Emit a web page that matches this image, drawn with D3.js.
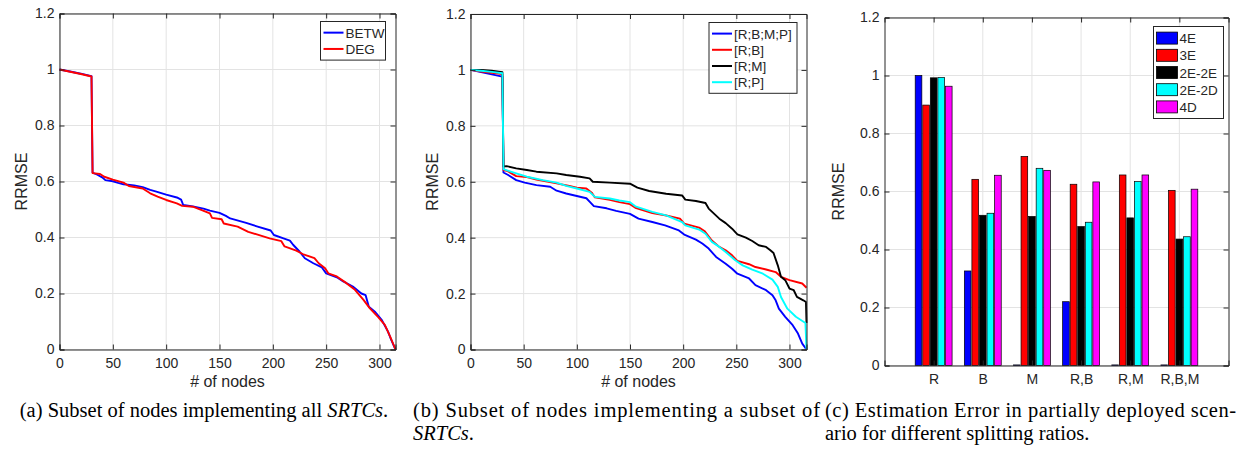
<!DOCTYPE html>
<html>
<head>
<meta charset="utf-8">
<script src="https://cdn.jsdelivr.net/npm/d3@7"></script>
<style>
  body { margin: 0; background: #fff; }
  svg { display: block; }
</style>
</head>
<body>
<script>
// ---- data ----
// panel (a): all SRTCs
var betw = [[0,1.0],[10,0.993],[20,0.985],[30,0.976],[31,0.632],[35,0.625],[40,0.615],[43,0.605],[50,0.601],[55,0.595],[60,0.59],[70,0.586],[78,0.58],[85,0.57],[90,0.565],[100,0.553],[110,0.543],[114,0.535],[116,0.516],[125,0.511],[135,0.503],[141,0.496],[150,0.488],[156,0.477],[160,0.468],[175,0.452],[185,0.44],[198,0.425],[201,0.409],[210,0.397],[216,0.389],[219,0.374],[225,0.35],[230,0.326],[238,0.308],[246,0.293],[250,0.272],[260,0.258],[266,0.243],[275,0.225],[283,0.2],[287,0.194],[290,0.153],[296,0.134],[302,0.106],[308,0.064],[311,0.034],[315,0]];
var deg = [[0,1.0],[10,0.992],[20,0.984],[30,0.975],[31,0.63],[38,0.627],[42,0.617],[50,0.607],[60,0.596],[65,0.584],[78,0.575],[85,0.558],[92,0.546],[100,0.534],[110,0.522],[115,0.513],[125,0.51],[134,0.497],[141,0.486],[143,0.47],[152,0.465],[154,0.45],[167,0.439],[177,0.42],[185,0.411],[197,0.397],[208,0.387],[211,0.368],[222,0.353],[228,0.341],[239,0.326],[243,0.308],[249,0.29],[252,0.272],[260,0.261],[269,0.237],[277,0.213],[285,0.177],[291,0.147],[299,0.115],[305,0.088],[310,0.046],[315,0]];

// panel (b): subset of SRTCs
var rbmp = [[0,1.0],[10,0.992],[20,0.984],[30,0.976],[31,0.633],[35,0.625],[43,0.606],[51,0.597],[62,0.588],[75,0.582],[81,0.568],[90,0.558],[100,0.549],[109,0.541],[112,0.529],[116,0.513],[128,0.505],[137,0.496],[150,0.485],[158,0.468],[171,0.456],[183,0.444],[196,0.426],[201,0.411],[212,0.393],[218,0.379],[224,0.361],[231,0.331],[240,0.307],[246,0.289],[251,0.271],[262,0.254],[268,0.23],[278,0.212],[284,0.194],[287,0.176],[290,0.146],[296,0.117],[303,0.087],[308,0.057],[312,0.021],[316,0]];
var rb = [[0,1.0],[10,0.994],[20,0.99],[30,0.985],[31,0.642],[35,0.638],[43,0.62],[53,0.617],[62,0.608],[81,0.594],[93,0.585],[100,0.579],[109,0.576],[114,0.561],[117,0.544],[131,0.535],[140,0.527],[150,0.52],[155,0.507],[171,0.488],[183,0.48],[197,0.468],[201,0.45],[215,0.436],[220,0.424],[227,0.39],[234,0.367],[240,0.355],[246,0.337],[251,0.317],[262,0.305],[268,0.295],[278,0.286],[287,0.277],[292,0.26],[300,0.248],[312,0.236],[316,0.221]];
var rm = [[0,1.0],[10,1.0],[20,0.997],[30,0.992],[31,0.655],[34,0.656],[43,0.648],[53,0.642],[62,0.636],[81,0.63],[90,0.624],[103,0.618],[112,0.612],[115,0.6],[131,0.597],[150,0.593],[157,0.579],[168,0.567],[184,0.557],[199,0.551],[202,0.536],[212,0.531],[221,0.524],[224,0.504],[229,0.486],[234,0.468],[240,0.452],[246,0.432],[251,0.412],[259,0.4],[265,0.388],[271,0.373],[278,0.367],[282,0.355],[285,0.345],[289,0.301],[292,0.26],[296,0.248],[300,0.218],[304,0.212],[307,0.188],[313,0.176],[315.5,0.17],[316,0.095]];
var rp = [[0,1.0],[10,0.997],[20,0.993],[30,0.988],[31,0.645],[35,0.64],[43,0.63],[53,0.618],[68,0.606],[81,0.597],[90,0.585],[100,0.576],[112,0.564],[117,0.546],[131,0.54],[140,0.533],[150,0.527],[155,0.512],[171,0.492],[184,0.48],[199,0.456],[202,0.444],[215,0.429],[221,0.414],[227,0.385],[234,0.367],[240,0.349],[249,0.319],[256,0.301],[265,0.286],[275,0.271],[284,0.25],[289,0.224],[292,0.188],[298,0.146],[306,0.117],[315,0.095],[316,0]];

// panel (c): splitting ratios
var ratios = ["R", "B", "M", "R,B", "R,M", "R,B,M"];
var barSeries = ["4E", "3E", "2E-2E", "2E-2D", "4D"];
var barColors = ["#0000ff", "#ff0000", "#000000", "#00ffff", "#ff00ff"];
var val4E   = [1.0, 0.326, 0.002, 0.220, 0.002, 0.002];
var val3E   = [0.898, 0.642, 0.721, 0.625, 0.657, 0.604];
var val2E2E = [0.992, 0.518, 0.514, 0.479, 0.509, 0.436];
var val2E2D = [0.993, 0.525, 0.680, 0.494, 0.634, 0.444];
var val4D   = [0.963, 0.656, 0.673, 0.633, 0.657, 0.608];

var yTicks = [0, 0.2, 0.4, 0.6, 0.8, 1, 1.2];
var xTicks = [0, 50, 100, 150, 200, 250, 300];

var captions = [
  {lines: [["(a) Subset of nodes implementing all ", "SRTCs", "."]]},
  {lines: [["(b) Subset of nodes implementing a subset of", "", ""], ["", "SRTCs", "."]]},
  {lines: [["(c) Estimation Error in partially deployed scen-", "", ""], ["ario for different splitting ratios.", "", ""]]}
];

// ---- drawing ----
var svg = d3.select("body").append("svg")
  .attr("width", 1238).attr("height", 451)
  .style("font-family", "'Liberation Sans', Arial, sans-serif");

var axisCol = "#262626";
var gridCol = "#e3e3e3";
var fmt = function(d) { return String(+d.toFixed(1)); };

function frame(g, x, y, xv, xf) {
  var x0 = x.range()[0], x1 = x.range()[1], y0 = y.range()[0], y1 = y.range()[1];
  // grid
  g.append("g").selectAll("line").data(xv).enter().append("line")
    .attr("x1", function(d) { return x(d); }).attr("x2", function(d) { return x(d); })
    .attr("y1", y0).attr("y2", y1).attr("stroke", gridCol);
  g.append("g").selectAll("line").data(yTicks).enter().append("line")
    .attr("y1", function(d) { return y(d); }).attr("y2", function(d) { return y(d); })
    .attr("x1", x0).attr("x2", x1).attr("stroke", gridCol);
}

function axes(g, x, y, xv, xf) {
  var x0 = x.range()[0], x1 = x.range()[1], y0 = y.range()[0], y1 = y.range()[1];
  var bottom = g.append("g").attr("transform", "translate(0," + y0 + ")")
    .call(d3.axisBottom(x).tickValues(xv).tickFormat(xf).tickSize(-5).tickPadding(9));
  var left = g.append("g").attr("transform", "translate(" + x0 + ",0)")
    .call(d3.axisLeft(y).tickValues(yTicks).tickFormat(fmt).tickSize(-5).tickPadding(5));
  var top = g.append("g").attr("transform", "translate(0," + y1 + ")")
    .call(d3.axisTop(x).tickValues(xv).tickFormat("").tickSize(-5));
  var right = g.append("g").attr("transform", "translate(" + x1 + ",0)")
    .call(d3.axisRight(y).tickValues(yTicks).tickFormat("").tickSize(-5));
  [bottom, left, top, right].forEach(function(a) {
    a.select(".domain").attr("stroke", axisCol);
    a.selectAll(".tick line").attr("stroke", axisCol);
    a.selectAll("text").attr("fill", axisCol).style("font-size", "14px")
      .style("font-family", "'Liberation Sans', Arial, sans-serif");
  });
}

function ylabel(g, cx, cy) {
  g.append("text").attr("transform", "translate(" + cx + "," + cy + ") rotate(-90)")
    .attr("text-anchor", "middle").attr("fill", axisCol)
    .style("font-size", "16px").text("RRMSE");
}

function legendBox(g, bx, by, bw, rowH, items, swatch) {
  g.append("rect").attr("x", bx).attr("y", by).attr("width", bw)
    .attr("height", rowH * items.length + 6)
    .attr("fill", "#fff").attr("stroke", axisCol).attr("stroke-width", 1);
  items.forEach(function(it, i) {
    var cy = by + 3 + rowH * i + rowH / 2;
    if (swatch) {
      g.append("rect").attr("x", bx + 3).attr("y", cy - 6).attr("width", 21).attr("height", 12)
        .attr("fill", it.color).attr("stroke", "#000").attr("stroke-width", 0.8);
    } else {
      g.append("line").attr("x1", bx + 3).attr("x2", bx + 23).attr("y1", cy).attr("y2", cy)
        .attr("stroke", it.color).attr("stroke-width", 2);
    }
    g.append("text").attr("x", bx + (swatch ? 26 : 25)).attr("y", cy + 5)
      .attr("fill", axisCol).style("font-size", "13.5px").text(it.name);
  });
}

function linePanel(box, xMax, series, leg) {
  var g = svg.append("g");
  var x = d3.scaleLinear().domain([0, xMax]).range([box.l, box.r]);
  var y = d3.scaleLinear().domain([0, 1.2]).range([box.b, box.t]);
  frame(g, x, y, xTicks);
  var line = d3.line().x(function(d) { return x(d[0]); }).y(function(d) { return y(d[1]); });
  series.forEach(function(s) {
    g.append("path").datum(s.data).attr("d", line).attr("fill", "none")
      .attr("stroke", s.color).attr("stroke-width", 1.9).attr("stroke-linejoin", "round");
  });
  axes(g, x, y, xTicks, d3.format("d"));
  g.append("text").attr("x", (box.l + box.r) / 2).attr("y", box.b + 37)
    .attr("text-anchor", "middle").attr("fill", axisCol).style("font-size", "16px").text("# of nodes");
  ylabel(g, box.l - 33, (box.t + box.b) / 2);
  legendBox(g, leg.x, leg.y, leg.w, leg.h, series, false);
}

linePanel({l: 59.5, r: 395.5, t: 13.5, b: 349.5}, 315,
  [{name: "BETW", color: "#0000ff", data: betw}, {name: "DEG", color: "#ff0000", data: deg}],
  {x: 320.5, y: 21.5, w: 65, h: 16.3});

linePanel({l: 470.5, r: 806.5, t: 14, b: 349.5}, 316,
  [{name: "[R;B;M;P]", color: "#0000ff", data: rbmp}, {name: "[R;B]", color: "#ff0000", data: rb},
   {name: "[R;M]", color: "#000000", data: rm}, {name: "[R;P]", color: "#00ffff", data: rp}],
  {x: 709, y: 22.5, w: 88, h: 16.2});

// bar panel
(function() {
  var box = {l: 884.5, r: 1228.5, t: 17.5, b: 365.5};
  var g = svg.append("g");
  var x = d3.scaleLinear().domain([0, 7]).range([box.l, box.r]);
  var y = d3.scaleLinear().domain([0, 1.2]).range([box.b, box.t]);
  var idx = d3.range(1, ratios.length + 1);
  frame(g, x, y, idx);
  var unit = x(1) - x(0);
  var inner = d3.scaleBand().domain(barSeries)
    .range([-0.3846 * unit, 0.3846 * unit]).paddingInner(0.12).paddingOuter(0.06);
  var values = [val4E, val3E, val2E2E, val2E2D, val4D];
  barSeries.forEach(function(s, si) {
    g.append("g").selectAll("rect").data(values[si]).enter().append("rect")
      .attr("x", function(d, i) { return x(i + 1) + inner(s); })
      .attr("width", inner.bandwidth())
      .attr("y", function(d) { return y(d); })
      .attr("height", function(d) { return y(0) - y(d); })
      .attr("fill", barColors[si]).attr("stroke", "#000").attr("stroke-width", 0.7);
  });
  axes(g, x, y, idx, function(d) { return ratios[d - 1]; });
  ylabel(g, box.l - 41, (box.t + box.b) / 2);
  legendBox(g, 1153.5, 26.5, 70, 17.2,
    barSeries.map(function(s, i) { return {name: s, color: barColors[i]}; }), true);
})();

// captions
var capX = [[204, "middle"], [413, "start"], [825, "start"]];
var capLen = [null, 407, 411];
captions.forEach(function(c, ci) {
  c.lines.forEach(function(parts, li) {
    var t = svg.append("text").attr("x", capX[ci][0]).attr("y", 417 + li * 23)
      .attr("text-anchor", capX[ci][1])
      .style("font-family", "'Liberation Serif', 'Times New Roman', serif")
      .style("font-size", "20.5px").attr("fill", "#000");
    if (li === 0 && capLen[ci]) t.attr("textLength", capLen[ci]).attr("lengthAdjust", "spacing");
    t.append("tspan").text(parts[0]);
    if (parts[1]) t.append("tspan").style("font-style", "italic").text(parts[1]);
    if (parts[2]) t.append("tspan").text(parts[2]);
  });
});
</script>
</body>
</html>
